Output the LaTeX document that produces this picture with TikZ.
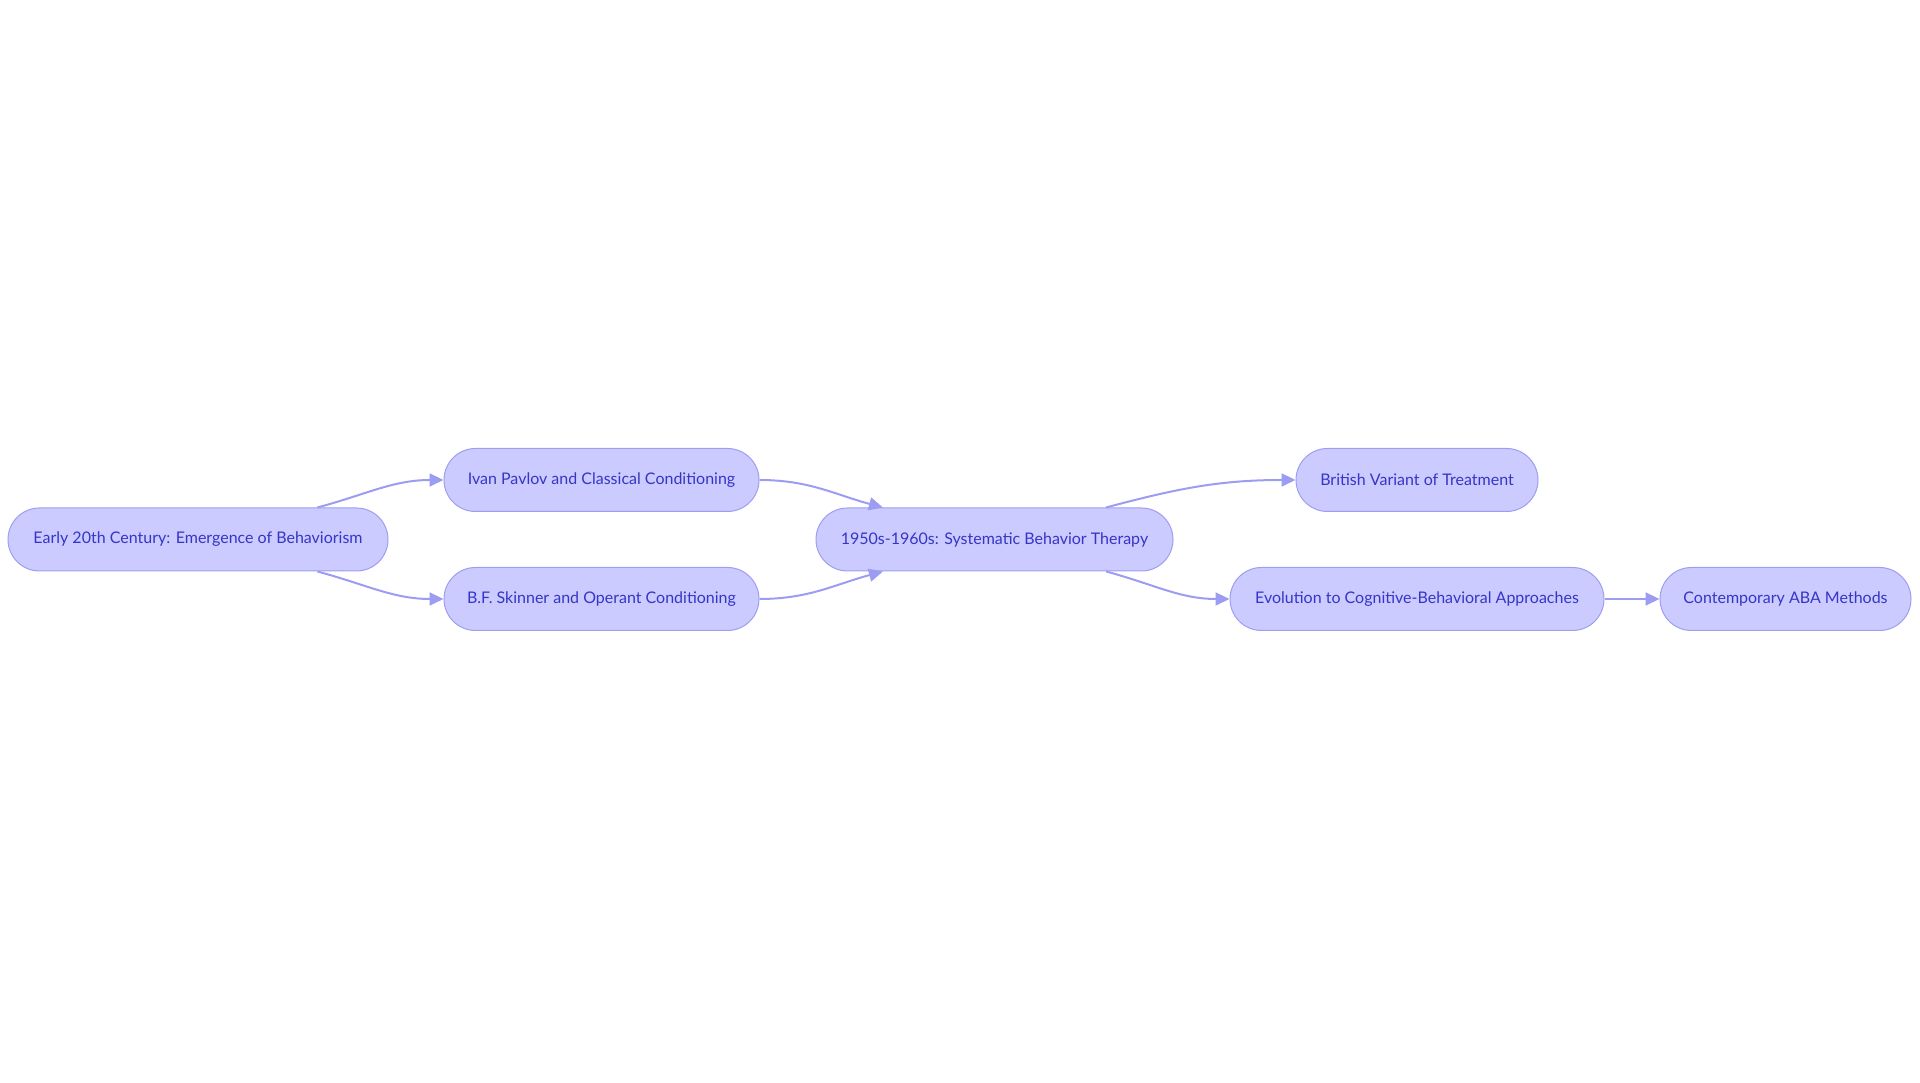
\documentclass[tikz,border=0pt]{standalone}
\usepackage{fontspec}
\setmainfont{Lato}
\usetikzlibrary{shapes.misc,arrows.meta}
\definecolor{phasefill}{HTML}{CBCBFF}
\definecolor{phaseline}{HTML}{9E9EF0}
\definecolor{phasetext}{HTML}{3535C8}
\definecolor{linkline}{HTML}{9C9CF2}
\begin{document}
\begin{tikzpicture}[x=1pt,y=1pt,
    arrow/.style = {line width=2pt,draw=linkline,-{Triangle[length=14pt,width=13pt,fill=linkline]}},
    phase/.style = {rounded rectangle,draw=phaseline,line width=1pt,fill=phasefill,
        text=phasetext,minimum height=63pt,inner xsep=0pt,
        font=\fontsize{16pt}{20pt}\selectfont}]
    \useasboundingbox (0,0) rectangle (1920,1083);

    \node[phase,minimum width=380pt] (early) at (198,543.5) {Early 20th Century: Emergence of Behaviorism};
    \node[phase,minimum width=315pt] (pavlov) at (601.5,603) {Ivan Pavlov and Classical Conditioning};
    \node[phase,minimum width=315pt] (skinner) at (601.5,484) {B.F. Skinner and Operant Conditioning};
    \node[phase,minimum width=357pt] (therapy) at (994.5,543.5) {1950s-1960s: Systematic Behavior Therapy};
    \node[phase,minimum width=242pt] (british) at (1417,603) {British Variant of Treatment};
    \node[phase,minimum width=374pt] (cbt) at (1417,484) {Evolution to Cognitive-Behavioral Approaches};
    \node[phase,minimum width=251pt] (aba) at (1785.5,484) {Contemporary ABA Methods};

    \draw[arrow] (early.15) to[out=15,in=180] (pavlov.west);
    \draw[arrow] (early.-15) to[out=-15,in=180] (skinner.west);
    \draw[arrow] (pavlov.east) to[out=0,in=165] (therapy.164);
    \draw[arrow] (skinner.east) to[out=0,in=195] (therapy.196);
    \draw[arrow] (therapy.16) to[out=15,in=180] (british.west);
    \draw[arrow] (therapy.-16) to[out=-15,in=180] (cbt.west);
    \draw[arrow] (cbt.east) -- (aba.west);
\end{tikzpicture}
\end{document}
